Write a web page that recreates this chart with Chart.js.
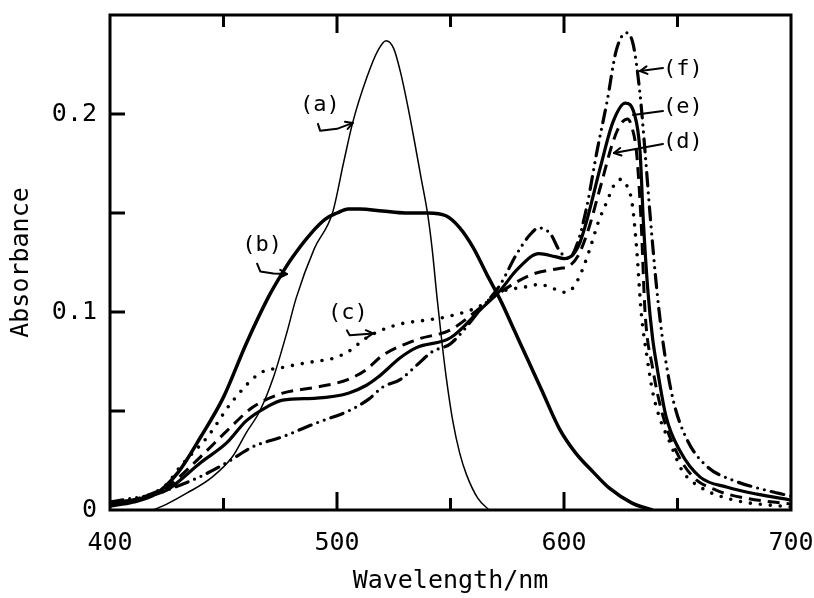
<!DOCTYPE html>
<html><head><meta charset="utf-8">
<script src="https://cdn.jsdelivr.net/npm/chart.js@4/dist/chart.umd.min.js"></script>
<style>html,body{margin:0;padding:0;background:#fff}#wrap{width:814px;height:598px}</style>
</head><body><div id="wrap"><canvas id="c" width="814" height="598"></canvas></div>
<script>
// ---- data (wavelength nm / absorbance) ----
const aWl  = [419,425,434,445,454,460,466,472,478,482,490,498,503,507,513,518,521.6,525,528,531,534,537,540,542,544,546,548,551,554,557,562,567];
const aAbs = [0,0.003,0.0086,0.0166,0.027,0.039,0.050,0.067,0.090,0.107,0.132,0.150,0.176,0.196,0.218,0.232,0.237,0.233,0.221,0.205,0.187,0.168,0.149,0.131,0.108,0.087,0.068,0.045,0.029,0.018,0.006,0];

const bWl  = [400,410,420,430,440,450,460,470,475,480,488,495,500,505,510,520,530,540,548,554,560,566,572,578,584,590,598,605,613,620,630,639];
const bAbs = [0.002,0.004,0.008,0.019,0.037,0.057,0.084,0.108,0.118,0.127,0.139,0.147,0.150,0.152,0.152,0.151,0.150,0.150,0.1486,0.1426,0.1325,0.119,0.106,0.091,0.076,0.061,0.041,0.029,0.019,0.011,0.0035,0];

const cWl  = [400,410,420,425,431,443,454,466,476,490,498,505,513,520,528,540,550,563,572,579,585,589,595,600,603,606,609,612,615,619,622,625,628,630,632,634,636.6,639,642,646.7,652,660,675,700];
const cAbs = [0.003,0.005,0.009,0.013,0.022,0.037,0.055,0.069,0.072,0.075,0.0765,0.080,0.087,0.091,0.094,0.096,0.098,0.103,0.110,0.112,0.113,0.114,0.112,0.110,0.111,0.116,0.124,0.134,0.145,0.156,0.164,0.167,0.163,0.155,0.132,0.100,0.077,0.060,0.047,0.034,0.020,0.0116,0.005,0.0015];

const dWl  = [400,410,420,425,440,451.5,463,476,491,505,513,520,535,550,563,572,586,598,602,606,610,616,621.6,625,628,630,632,634,635.7,639,643.7,649.7,657,667,680,700];
const dAbs = [0.003,0.005,0.009,0.0115,0.027,0.040,0.052,0.059,0.062,0.066,0.071,0.078,0.086,0.091,0.102,0.110,0.119,0.122,0.123,0.128,0.139,0.163,0.186,0.195,0.1975,0.193,0.180,0.145,0.100,0.072,0.047,0.029,0.0166,0.010,0.006,0.003];

const eWl  = [400,410,420,425,440,451.5,460,469,476,491,505,513,518,528,535,550,563,572,579,589,596,600,604,607,610,616,621.6,627,631,633.5,635,637,639,641,645,651,660,672,685,700];
const eAbs = [0.004,0.005,0.008,0.010,0.024,0.034,0.045,0.052,0.0555,0.0565,0.059,0.063,0.067,0.077,0.082,0.087,0.101,0.111,0.121,0.1295,0.128,0.127,0.129,0.135,0.146,0.173,0.196,0.2055,0.200,0.181,0.145,0.110,0.087,0.072,0.047,0.030,0.0166,0.0115,0.008,0.005];

const fWl  = [400,410,420,425,440,451.5,463,476,491,505,514,520,528,535,542,550,563,572,579,585,589,594,598,602,606,610,614.5,619,623,627.5,630.5,633.5,635.7,638,641,643.7,648,654,663,674.5,689,700];
const fAbs = [0.004,0.006,0.008,0.010,0.017,0.024,0.032,0.037,0.044,0.050,0.056,0.062,0.066,0.073,0.080,0.084,0.101,0.114,0.129,0.139,0.1425,0.1395,0.131,0.127,0.135,0.153,0.181,0.2065,0.232,0.241,0.235,0.210,0.181,0.148,0.110,0.084,0.056,0.036,0.022,0.015,0.010,0.007];

const xTickLabels = [400,500,600,700];
const yTickLabels = [0,0.1,0.2];

// annotation labels (data coordinates)
const labelText = ['(a)','(b)','(c)','(d)','(e)','(f)'];
const labelPos  = [[492.5,0.2045],[467,0.1335],[504.8,0.0992],[652.4,0.1859],[652.4,0.2035],[652.4,0.2227]];
// pointer paths (data coords); last point is the tip
const pointerPaths = [
  [[491.6,0.195],[492.6,0.1915],[500,0.1925],[507,0.1955]],
  [[464.8,0.1244],[466.2,0.1205],[472,0.1195],[478,0.1192]],
  [[504.4,0.0907],[505.6,0.0882],[510,0.0886],[515.9,0.0892]],
  [[643.6,0.1849],[622,0.1803]],
  [[643.6,0.2015],[630.4,0.1995]],
  [[643.6,0.2232],[633.5,0.2217]]
];
const pointerHead = [true,true,true,true,false,true];

function pts(xs, ys){ return xs.map((x,i)=>({x:x,y:ys[i]})); }

const FONT = "'DejaVu Sans Mono', 'Liberation Mono', monospace";

const frameAndTicks = {
  id:'frameAndTicks',
  afterDatasetsDraw(chart){
    const {ctx, chartArea:ca, scales:{x,y}} = chart;
    ctx.save();
    ctx.strokeStyle='#000';
    ctx.lineCap='butt';
    ctx.lineWidth=3;
    for(let v=450; v<700; v+=50){
      const px=x.getPixelForValue(v);
      const len = (v%100===0)?18:12;
      ctx.beginPath(); ctx.moveTo(px,ca.bottom); ctx.lineTo(px,ca.bottom-len); ctx.stroke();
      ctx.beginPath(); ctx.moveTo(px,ca.top); ctx.lineTo(px,ca.top+len); ctx.stroke();
    }
    for(let k=1;k<=4;k++){
      const py=y.getPixelForValue(k*0.05);
      ctx.beginPath(); ctx.moveTo(ca.left,py); ctx.lineTo(ca.left+15,py); ctx.stroke();
    }
    ctx.lineWidth=3;
    ctx.strokeRect(ca.left,ca.top,ca.right-ca.left,ca.bottom-ca.top);

    ctx.fillStyle='#000';
    ctx.font="22px "+FONT;
    ctx.textAlign='center'; ctx.textBaseline='middle';
    labelText.forEach((t,i)=>{
      ctx.fillText(t, x.getPixelForValue(labelPos[i][0]), y.getPixelForValue(labelPos[i][1]));
    });
    ctx.lineWidth=2; ctx.lineJoin='round'; ctx.lineCap='round';
    pointerPaths.forEach((p,i)=>{
      const P=p.map(q=>[x.getPixelForValue(q[0]), y.getPixelForValue(q[1])]);
      ctx.beginPath(); ctx.moveTo(P[0][0],P[0][1]);
      for(let j=1;j<P.length;j++) ctx.lineTo(P[j][0],P[j][1]);
      ctx.stroke();
      if(pointerHead[i]){
        const a=P[P.length-1], b=P[P.length-2];
        const ang=Math.atan2(a[1]-b[1],a[0]-b[0]);
        const L=8, w=0.5;
        ctx.beginPath();
        ctx.moveTo(a[0]-L*Math.cos(ang-w), a[1]-L*Math.sin(ang-w));
        ctx.lineTo(a[0],a[1]);
        ctx.lineTo(a[0]-L*Math.cos(ang+w), a[1]-L*Math.sin(ang+w));
        ctx.stroke();
      }
    });
    ctx.restore();
  }
};

const common = {pointRadius:0, borderColor:'#000', backgroundColor:'#000', fill:false, cubicInterpolationMode:'monotone', tension:0.4};

new Chart(document.getElementById('c'), {
  type:'line',
  data:{datasets:[
    Object.assign({label:'(a)', data:pts(aWl,aAbs), borderWidth:1.5}, common),
    Object.assign({label:'(b)', data:pts(bWl,bAbs), borderWidth:3.5}, common),
    Object.assign({label:'(c)', data:pts(cWl,cAbs), borderWidth:3.6, borderDash:[0,10], borderCapStyle:'round'}, common),
    Object.assign({label:'(d)', data:pts(dWl,dAbs), borderWidth:3, borderDash:[12,7]}, common),
    Object.assign({label:'(e)', data:pts(eWl,eAbs), borderWidth:3.2}, common),
    Object.assign({label:'(f)', data:pts(fWl,fAbs), borderWidth:3.2, borderDash:[13,7,0,7,0,7], borderCapStyle:'round'}, common)
  ]},
  options:{
    responsive:false, animation:false, devicePixelRatio:1,
    layout:{padding:{left:0,right:23,top:15,bottom:0}},
    plugins:{legend:{display:false}, tooltip:{enabled:false}},
    scales:{
      x:{type:'linear', min:400, max:700,
         grid:{display:false, drawTicks:false, tickLength:0}, border:{display:false},
         ticks:{stepSize:50, autoSkip:false, maxRotation:0, color:'#000', padding:18,
                font:{family:FONT, size:25},
                callback:(v)=> xTickLabels.includes(v)? String(v):''},
         title:{display:true, text:'Wavelength/nm', color:'#000', font:{family:FONT,size:25}, padding:{top:0,bottom:2}},
         afterFit:(s)=>{ s.height=88; s.paddingLeft=0; s.paddingRight=0; }
      },
      y:{type:'linear', min:0, max:0.25,
         grid:{display:false, drawTicks:false, tickLength:0}, border:{display:false},
         ticks:{stepSize:0.05, autoSkip:false, color:'#000', padding:13,
                font:{family:FONT, size:25},
                callback:(v)=>{ const r=Math.round(v*100)/100; return yTickLabels.some(t=>Math.abs(t-r)<1e-9)? (r===0?'0':String(r)) : ''; }},
         title:{display:true, text:'Absorbance', color:'#000', font:{family:FONT,size:25}, padding:{top:6,bottom:0}},
         afterFit:(s)=>{ s.width=110; s.paddingTop=0; s.paddingBottom=0; }
      }
    }
  },
  plugins:[frameAndTicks]
});
</script></body></html>
